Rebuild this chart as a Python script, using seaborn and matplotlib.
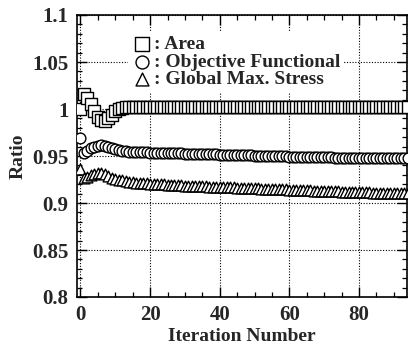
import matplotlib
matplotlib.use("Agg")
import matplotlib.pyplot as plt
import seaborn as sns
import pandas as pd
from matplotlib.ticker import MultipleLocator, FixedLocator

iterations = list(range(0, 95))

area = [1.000, 1.016, 1.012, 1.005, 0.998, 0.992, 0.988, 0.987, 0.990, 0.994,
        0.998, 1.000, 1.001, 1.002, 1.002, 1.002, 1.002, 1.002, 1.002, 1.002,
        1.002, 1.002, 1.002, 1.002, 1.002, 1.002, 1.002, 1.002, 1.002, 1.002,
        1.002, 1.002, 1.002, 1.002, 1.002, 1.002, 1.002, 1.002, 1.002, 1.002,
        1.002, 1.002, 1.002, 1.002, 1.002, 1.002, 1.002, 1.002, 1.002, 1.002,
        1.002, 1.002, 1.002, 1.002, 1.002, 1.002, 1.002, 1.002, 1.002, 1.002,
        1.002, 1.002, 1.002, 1.002, 1.002, 1.002, 1.002, 1.002, 1.002, 1.002,
        1.002, 1.002, 1.002, 1.002, 1.002, 1.002, 1.002, 1.002, 1.002, 1.002,
        1.002, 1.002, 1.002, 1.002, 1.002, 1.002, 1.002, 1.002, 1.002, 1.002,
        1.002, 1.002, 1.002, 1.002, 1.002]

objective = [0.969, 0.953, 0.955, 0.958, 0.960, 0.961, 0.962, 0.961, 0.960, 0.958,
             0.957, 0.956, 0.955, 0.955, 0.954, 0.954, 0.954, 0.954, 0.954, 0.954,
             0.953, 0.953, 0.953, 0.953, 0.953, 0.953, 0.953, 0.953, 0.953, 0.953,
             0.952, 0.952, 0.952, 0.952, 0.952, 0.952, 0.952, 0.952, 0.952, 0.952,
             0.951, 0.951, 0.951, 0.951, 0.951, 0.951, 0.951, 0.951, 0.951, 0.951,
             0.950, 0.950, 0.950, 0.950, 0.950, 0.950, 0.950, 0.950, 0.950, 0.950,
             0.949, 0.949, 0.949, 0.949, 0.949, 0.949, 0.949, 0.949, 0.949, 0.949,
             0.949, 0.949, 0.949, 0.948, 0.948, 0.948, 0.948, 0.948, 0.948, 0.948,
             0.948, 0.948, 0.948, 0.948, 0.948, 0.948, 0.948, 0.948, 0.948, 0.948,
             0.948, 0.948, 0.948, 0.948, 0.948]

stress = [0.936, 0.927, 0.928, 0.930, 0.931, 0.932, 0.932, 0.931, 0.929, 0.927,
          0.926, 0.925, 0.924, 0.923, 0.922, 0.922, 0.921, 0.921, 0.921, 0.921,
          0.920, 0.920, 0.920, 0.920, 0.920, 0.919, 0.919, 0.919, 0.919, 0.919,
          0.918, 0.918, 0.918, 0.918, 0.918, 0.918, 0.918, 0.917, 0.917, 0.917,
          0.917, 0.917, 0.917, 0.917, 0.917, 0.916, 0.916, 0.916, 0.916, 0.916,
          0.916, 0.916, 0.915, 0.915, 0.915, 0.915, 0.915, 0.915, 0.915, 0.915,
          0.914, 0.914, 0.914, 0.914, 0.914, 0.914, 0.914, 0.913, 0.913, 0.913,
          0.913, 0.913, 0.913, 0.913, 0.913, 0.912, 0.912, 0.912, 0.912, 0.912,
          0.912, 0.912, 0.912, 0.912, 0.911, 0.911, 0.911, 0.911, 0.911, 0.911,
          0.911, 0.911, 0.911, 0.911, 0.911]

series_labels = [": Area", ": Objective Functional", ": Global Max. Stress"]
x_ticks = [0, 20, 40, 60, 80]
y_ticks = [0.8, 0.85, 0.9, 0.95, 1.0, 1.05, 1.1]
y_tick_labels = ["0.8", "0.85", "0.9", "0.95", "1", "1.05", "1.1"]

sns.set_style("ticks")
plt.rcParams["font.family"] = ["Liberation Serif", "DejaVu Serif"]
plt.rcParams["font.weight"] = "bold"

fig = plt.figure(figsize=(4.12, 3.47), dpi=100)
ax = fig.add_axes([77 / 412, 1 - 297 / 347, 330 / 412, 282 / 347])

df = pd.DataFrame({"Iteration": iterations, "Area": area,
                   "Objective": objective, "Stress": stress})

for col, mk, lab, sz in [("Area", "s", series_labels[0], 65),
                         ("Objective", "o", series_labels[1], 60),
                         ("Stress", "^", series_labels[2], 60)]:
    sns.scatterplot(data=df, x="Iteration", y=col, marker=mk, s=sz,
                    facecolor="white", edgecolor="black", linewidth=1.0,
                    label=lab, ax=ax, zorder=3, clip_on=True)

ax.set_xlim(-1, 93.8)
ax.set_ylim(0.8, 1.1)
ax.xaxis.set_major_locator(FixedLocator(x_ticks))
ax.xaxis.set_minor_locator(MultipleLocator(5))
ax.yaxis.set_major_locator(FixedLocator(y_ticks))
ax.set_yticklabels(y_tick_labels)
ax.yaxis.set_minor_locator(MultipleLocator(0.01))

ax.tick_params(which="both", direction="in", top=True, right=True, color="black")
ax.tick_params(which="major", length=7, width=1.0, labelsize=15, pad=6)
ax.tick_params(which="minor", length=3.5, width=0.9)
for lbl in ax.get_xticklabels() + ax.get_yticklabels():
    lbl.set_fontweight("bold")

ax.grid(True, which="major", linestyle=(0, (1, 1.5)), color="black", linewidth=0.8)
for sp in ax.spines.values():
    sp.set_linewidth(1.2)
    sp.set_color("black")

ax.set_xlabel("Iteration Number", fontsize=14, fontweight="bold", labelpad=2)
ax.set_ylabel("Ratio", fontsize=14, fontweight="bold", labelpad=4)

leg = ax.legend(loc="upper left", bbox_to_anchor=(0.125, 0.975), frameon=True,
                fancybox=False, framealpha=1, edgecolor="none", facecolor="white",
                prop={"family": "Liberation Serif", "weight": "bold", "size": 14},
                handletextpad=0.15, borderpad=0.2, labelspacing=0.0,
                markerscale=1.2, handlelength=1.0)
leg.set_zorder(5)

fig.savefig("out.png", dpi=100)
